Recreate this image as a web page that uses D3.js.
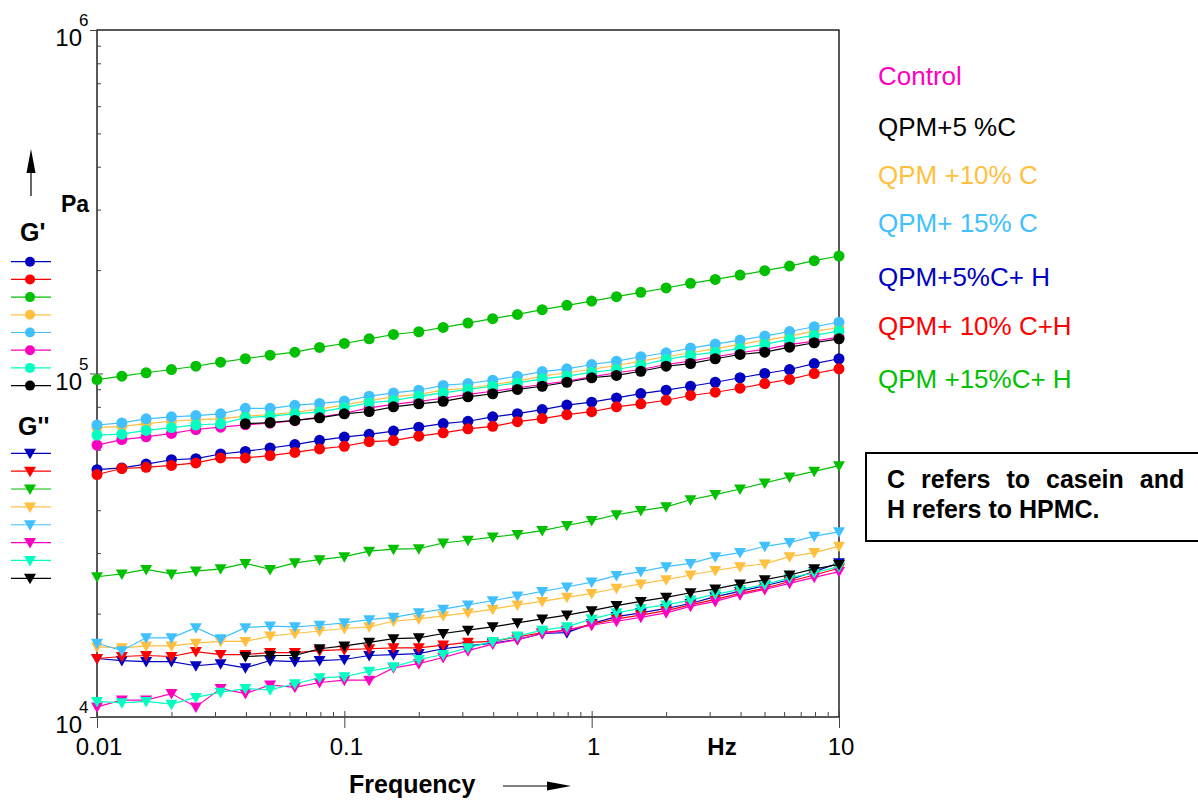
<!doctype html>
<html lang="en">
<head>
<meta charset="UTF-8">
<title>G' and G'' versus frequency</title>
<script src="https://d3js.org/d3.v7.min.js"></script>
<style>
    body { margin: 0; background: #fff; }
    svg { font-family: "Liberation Sans", Arial, sans-serif; }
</style>
</head>
<body>
<svg id="chart" width="1198" height="800"></svg>
<script>
// frequency sweep, Hz
var freq = [0.01, 0.0126, 0.0158, 0.02, 0.0251, 0.0316, 0.0398, 0.0501, 0.0631, 0.0794,
    0.1, 0.126, 0.158, 0.2, 0.251, 0.316, 0.398, 0.501, 0.631, 0.794,
    1, 1.26, 1.58, 2, 2.51, 3.16, 3.98, 5.01, 6.31, 7.94, 10];

// storage modulus G' (Pa)
var gp5CH = [52500, 53100, 54500, 56100, 56500, 58300, 59300, 60700, 62100, 63900, 65300, 66500, 68000, 69800, 71500, 72600, 74800, 76400, 78500, 80900, 82500, 84900, 87400, 89400, 91800, 94300, 97200, 100000, 102700, 106900, 110400];
var gp10CH = [50800, 52900, 53300, 54000, 54900, 56800, 56800, 57700, 58900, 60300, 61400, 63300, 63800, 65700, 67200, 69000, 70200, 72400, 73900, 75900, 77400, 80000, 81600, 83600, 86300, 88200, 90600, 93500, 96100, 100000, 103200];
var gp15CH = [96000, 98200, 100500, 102700, 105000, 107900, 110400, 113100, 115400, 119100, 122300, 126200, 129900, 132300, 136200, 140200, 144400, 148600, 153400, 157900, 162500, 167400, 172300, 177400, 183000, 187900, 193400, 199200, 205500, 213100, 219800];
var gp10C = [69600, 70200, 71500, 72600, 73400, 73800, 75100, 75900, 77100, 78800, 81000, 83400, 85500, 86900, 89400, 90600, 92900, 95000, 98200, 100500, 102900, 105500, 108600, 111900, 114900, 118100, 121500, 124900, 128500, 132800, 135900];
var gp15C = [70800, 71800, 73800, 74800, 75400, 76300, 79200, 79200, 80800, 81800, 83100, 85900, 87800, 89400, 92300, 93500, 95600, 98200, 101300, 103200, 106200, 108600, 111900, 114900, 118600, 121800, 125100, 128500, 132500, 136800, 141100];
var gpControl = [61900, 64200, 65400, 66900, 68700, 69800, 70900, 71700, 72900, 74700, 76600, 79400, 81300, 83000, 84700, 86900, 88800, 90900, 92900, 95000, 97800, 100500, 102700, 106200, 108600, 111900, 114900, 117600, 121300, 124300, 127600];
var gpCyan = [66200, 66600, 68300, 69600, 70800, 71400, 74400, 75100, 76300, 77300, 79600, 82200, 83400, 85900, 87800, 89900, 91800, 93900, 96500, 98200, 100700, 102700, 105700, 109900, 112900, 115400, 118300, 121500, 125700, 129100, 132800];
var gp5C = [null, null, null, null, null, null, 71400, 72000, 73000, 74300, 76300, 77500, 80000, 81600, 83000, 85500, 87300, 89900, 91800, 94300, 97200, 98700, 101500, 105000, 106900, 110400, 113600, 115400, 119300, 122900, 126200];

// loss modulus G'' (Pa)
var gpp5CH = [14800, 14600, 14500, 14500, 14100, 14300, 13900, 14600, 14500, 14600, 14700, 15100, 15200, 15300, 15800, 16100, 16400, 16800, 17500, 17600, 18700, 19600, 20100, 20700, 21400, 22400, 23200, 24100, 25100, 26500, 28100];
var gpp10CH = [14800, 15000, 15100, 15000, 15500, 15200, 15200, 15400, 15400, 15600, 15700, 15800, 15900, 15900, 16200, 16500, 16600, 17100, 17600, 17900, 18600, 19300, 19800, 20400, 21200, 22000, 22900, 23700, 24800, 25900, 27100];
var gpp15CH = [25600, 26100, 26900, 26100, 26600, 27000, 28000, 26900, 28100, 28700, 29300, 30400, 30800, 30900, 32100, 32700, 33400, 34000, 34900, 36100, 37300, 38800, 39900, 40900, 42900, 44400, 46100, 48000, 50000, 51900, 53900];
var gpp10C = [16000, 15900, 16100, 16100, 16400, 16600, 16600, 17200, 17500, 17800, 18100, 18300, 19000, 19300, 19700, 20100, 20600, 21200, 21700, 22300, 22900, 23700, 24400, 25100, 25900, 26700, 27400, 27900, 29300, 30100, 31400];
var gpp15C = [16400, 15600, 17000, 17000, 18200, 16900, 18200, 18400, 18300, 18500, 18800, 19200, 19500, 20100, 20600, 21200, 21800, 22500, 23200, 23900, 24700, 25800, 26500, 27400, 28000, 29300, 30100, 31400, 32200, 33600, 34600];
var gppControl = [10700, 11200, 11200, 11700, 10700, 12100, 11700, 12400, 12200, 12600, 12800, 12800, 13900, 14300, 14900, 15600, 16300, 16800, 17500, 17900, 18500, 19000, 19500, 20100, 21000, 21700, 22700, 23500, 24500, 25500, 26500];
var gppCyan = [11100, 11000, 11100, 10900, 11400, 11800, 12100, 12000, 12500, 13000, 13100, 13600, 14000, 14700, 15200, 15900, 16600, 17200, 17900, 18300, 19300, 20100, 20700, 21200, 21900, 22800, 23500, 24300, 25400, 26300, 27400];
var gpp5C = [null, null, null, null, null, null, 15000, 15100, 15100, 15800, 16100, 16500, 16900, 17000, 17500, 17900, 18300, 18800, 19300, 19800, 20400, 21100, 21700, 22300, 23000, 23600, 24400, 25100, 25900, 27000, 27800];

// series colours, in the order of the left-hand legend
var seriesColors = ["#0000c0", "#ff0000", "#00c000", "#ffc040", "#40c0ff", "#ff00c0", "#00ffc0", "#000000"];
var gpSeries = [gp5CH, gp10CH, gp15CH, gp10C, gp15C, gpControl, gpCyan, gp5C];
var gppSeries = [gpp5CH, gpp10CH, gpp15CH, gpp10C, gpp15C, gppControl, gppCyan, gpp5C];

// legend on the right
var legendNames = ["Control", "QPM+5 %C", "QPM +10% C", "QPM+ 15% C", "QPM+5%C+ H", "QPM+ 10% C+H", "QPM +15%C+ H"];
var legendColors = ["#ff00c0", "#000000", "#ffc040", "#40c0ff", "#0000c0", "#ff0000", "#00c000"];

var xTicks = [0.01, 0.1, 1, 10];
var xTickLabels = ["0.01", "0.1", "1", "10"];
var yTicks = [1e4, 1e5, 1e6];
var yTickExp = ["4", "5", "6"];

function draw() {
    var svg = d3.select("#chart");
    var pL = 97, pR = 839, pT = 30, pB = 717;

    var x = d3.scaleLog().domain([0.01, 10]).range([pL, pR]);
    var y = d3.scaleLog().domain([1e4, 1e6]).range([pB, pT]);

    // frame
    svg.append("rect")
        .attr("x", pL).attr("y", pT)
        .attr("width", pR - pL).attr("height", pB - pT)
        .attr("fill", "none").attr("stroke", "#000").attr("stroke-width", 1.3);

    // x axis ticks
    var xMinor = x.ticks().filter(function (d) { return xTicks.indexOf(d) < 0; });
    svg.append("g")
        .attr("transform", "translate(0," + pB + ")")
        .call(d3.axisBottom(x).tickValues(xMinor).tickSize(-5).tickFormat(""))
        .call(function (g) { g.select(".domain").remove(); })
        .selectAll("line").attr("stroke", "#444");
    svg.append("g")
        .attr("transform", "translate(0," + pB + ")")
        .call(d3.axisBottom(x).tickValues(xTicks).tickSize(11).tickFormat(""))
        .call(function (g) { g.select(".domain").remove(); })
        .selectAll("line").attr("stroke", "#444").attr("y1", -6);

    svg.selectAll(".xlab")
        .data(xTicks)
        .enter()
        .append("text")
        .attr("x", function (d) { return x(d) + 2; })
        .attr("y", 755)
        .attr("text-anchor", "middle")
        .attr("font-size", "24px")
        .text(function (d, i) { return xTickLabels[i]; });

    // y axis ticks
    var yMinor = y.ticks().filter(function (d) { return yTicks.indexOf(d) < 0; });
    svg.append("g")
        .attr("transform", "translate(" + pL + ",0)")
        .call(d3.axisLeft(y).tickValues(yMinor).tickSize(-4).tickFormat(""))
        .call(function (g) { g.select(".domain").remove(); })
        .selectAll("line").attr("stroke", "#444");
    svg.append("g")
        .attr("transform", "translate(" + pL + ",0)")
        .call(d3.axisLeft(y).tickValues(yTicks).tickSize(7).tickFormat(""))
        .call(function (g) { g.select(".domain").remove(); })
        .selectAll("line").attr("stroke", "#444").attr("x1", function (d) { return d === 1e5 ? 6 : 0; });

    var ylab = svg.selectAll(".ylab")
        .data(yTicks)
        .enter()
        .append("g");
    ylab.append("text")
        .attr("x", 82).attr("y", function (d) { return y(d) + 16; })
        .attr("text-anchor", "end")
        .attr("font-size", "24px")
        .text("10");
    ylab.append("text")
        .attr("x", 79).attr("y", function (d) { return y(d) - 4; })
        .attr("font-size", "17px")
        .text(function (d, i) { return yTickExp[i]; });

    // axis titles
    svg.append("text").attr("x", 61).attr("y", 212)
        .attr("font-size", "23px").attr("font-weight", "bold").text("Pa");
    svg.append("line").attr("x1", 31).attr("y1", 196).attr("x2", 31).attr("y2", 168)
        .attr("stroke", "#000").attr("stroke-width", 1.2);
    svg.append("path").attr("d", "M31,149 L26.5,173 L35.5,173 Z").attr("fill", "#000");

    svg.append("text").attr("x", 349).attr("y", 793)
        .attr("font-size", "25px").attr("font-weight", "bold").text("Frequency");
    svg.append("line").attr("x1", 503).attr("y1", 786).attr("x2", 550).attr("y2", 786)
        .attr("stroke", "#000").attr("stroke-width", 1.2);
    svg.append("path").attr("d", "M571,786 L547,781.5 L547,790.5 Z").attr("fill", "#000");
    svg.append("text").attr("x", 722).attr("y", 755).attr("text-anchor", "middle")
        .attr("font-size", "24px").attr("font-weight", "bold").text("Hz");

    // markers
    var triangle = "M-6,-4.5 L6,-4.5 L0,6 Z";

    function drawSeries(values, color, marker) {
        var pts = freq.map(function (f, i) { return { f: f, v: values[i] }; })
            .filter(function (d) { return d.v != null; });
        var line = d3.line()
            .x(function (d) { return x(d.f); })
            .y(function (d) { return y(d.v); });
        var g = svg.append("g");
        g.append("path")
            .datum(pts)
            .attr("d", line)
            .attr("fill", "none")
            .attr("stroke", color)
            .attr("stroke-width", 1.2);
        if (marker === "circle") {
            g.selectAll("circle")
                .data(pts)
                .enter()
                .append("circle")
                .attr("cx", function (d) { return x(d.f); })
                .attr("cy", function (d) { return y(d.v); })
                .attr("r", 5.5)
                .attr("fill", color);
        } else {
            g.selectAll("path.m")
                .data(pts)
                .enter()
                .append("path")
                .attr("class", "m")
                .attr("d", triangle)
                .attr("transform", function (d) { return "translate(" + x(d.f) + "," + y(d.v) + ")"; })
                .attr("fill", color);
        }
    }

    gppSeries.forEach(function (s, i) { drawSeries(s, seriesColors[i], "triangle"); });
    gpSeries.forEach(function (s, i) { drawSeries(s, seriesColors[i], "circle"); });

    // left-hand legends
    svg.append("text").attr("x", 20).attr("y", 241)
        .attr("font-size", "25px").attr("font-weight", "bold").text("G'");
    svg.append("text").attr("x", 18).attr("y", 435)
        .attr("font-size", "25px").attr("font-weight", "bold").text("G''");

    seriesColors.forEach(function (c, i) {
        var yc = 261.7 + i * 17.7;
        svg.append("line").attr("x1", 11).attr("x2", 51).attr("y1", yc).attr("y2", yc)
            .attr("stroke", c).attr("stroke-width", 1.2);
        svg.append("circle").attr("cx", 30).attr("cy", yc).attr("r", 5).attr("fill", c);

        var yt = 453.3 + i * 17.86;
        svg.append("line").attr("x1", 11).attr("x2", 51).attr("y1", yt).attr("y2", yt)
            .attr("stroke", c).attr("stroke-width", 1.2);
        svg.append("path").attr("d", triangle)
            .attr("transform", "translate(30," + yt + ")").attr("fill", c);
    });

    // right-hand legend
    var legendY = [85, 136, 184, 232, 286, 335, 388];
    svg.selectAll(".leg")
        .data(legendNames)
        .enter()
        .append("text")
        .attr("x", 878)
        .attr("y", function (d, i) { return legendY[i]; })
        .attr("font-size", "26px")
        .attr("fill", function (d, i) { return legendColors[i]; })
        .text(function (d) { return d; });

    // note box
    svg.append("rect").attr("x", 866).attr("y", 453).attr("width", 345).attr("height", 88)
        .attr("fill", "none").attr("stroke", "#000").attr("stroke-width", 2);
    svg.append("text").attr("x", 887).attr("y", 488)
        .attr("font-size", "25px").attr("font-weight", "bold")
        .attr("word-spacing", "9px")
        .text("C refers to casein and");
    svg.append("text").attr("x", 887).attr("y", 518)
        .attr("font-size", "25px").attr("font-weight", "bold")
        .text("H refers to HPMC.");
}

draw();
</script>
</body>
</html>
